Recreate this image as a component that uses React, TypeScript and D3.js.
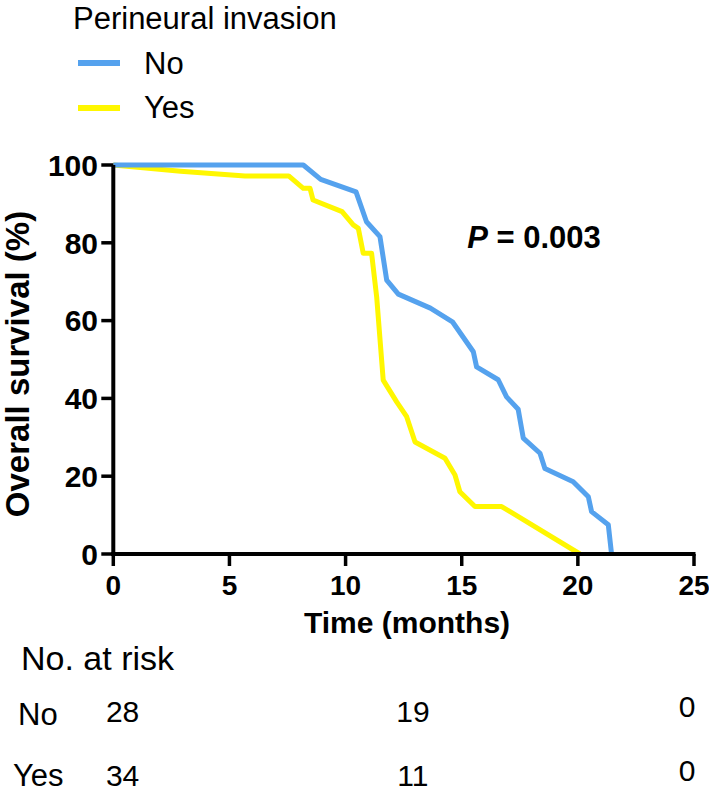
import React from "react";
import * as d3 from "d3";

const noTimes = [0, 8.18, 8.93, 10.45, 10.9, 11.48, 11.77, 12.27, 13.65, 14.6, 15.5, 15.64, 16.57, 16.93, 17.43, 17.65, 18.37, 18.58, 19.8, 20.45, 20.59, 21.31, 21.45];
const noSurv = [100, 100, 96.3, 93.1, 85.4, 81.6, 70.4, 66.8, 63.2, 59.7, 52, 48.1, 44.8, 40.4, 37.2, 29.8, 25.9, 22, 18.6, 14.7, 10.9, 7.5, 0];

const yesTimes = [0, 2.9, 5.67, 7.55, 8.18, 8.47, 8.6, 9.85, 10.33, 10.55, 10.76, 11.12, 11.34, 11.62, 12.2, 12.63, 12.99, 14.28, 14.71, 14.92, 15.57, 16.72, 20.09];
const yesSurv = [100, 98.4, 97.2, 97.2, 94, 94, 91, 88, 84.6, 83.7, 77.3, 77.3, 66, 44.7, 39.1, 35.3, 28.8, 24.6, 20.3, 16, 12.2, 12.2, 0];

const xTicks = [0, 5, 10, 15, 20, 25];
const yTicks = [0, 20, 40, 60, 80, 100];

const groups = ["No", "Yes"];
const groupColors = ["#55A2EE", "#FFF700"];
const riskTimes = [0.4, 12.9, 24.7];
const riskNo = [28, 19, 0];
const riskYes = [34, 11, 0];

const FONT = "Arial, 'Liberation Sans', Helvetica, sans-serif";

export default function App() {
  const x = d3.scaleLinear().domain([0, 25]).range([113.3, 694]);
  const y = d3.scaleLinear().domain([0, 100]).range([554, 165]);
  const line = d3
    .line<[number, number]>()
    .x((d) => x(d[0]))
    .y((d) => y(d[1]));
  const noPts: [number, number][] = noTimes.map((t, i) => [t, noSurv[i]]);
  const yesPts: [number, number][] = yesTimes.map((t, i) => [t, yesSurv[i]]);
  const riskRows = [riskNo, riskYes];
  const rowBase = [722, 786];
  const rowLabelBase = [725, 786];

  return (
    <svg
      width={709}
      height={794}
      style={{ position: "absolute", left: 0, top: 0, background: "#fff" }}
      fontFamily={FONT}
    >
      <rect x={0} y={0} width={709} height={794} fill="#fff" />
      {/* legend */}
      <text x={73} y={29} fontSize={31}>Perineural invasion</text>
      {groups.map((g, i) => (
        <g key={g}>
          <line x1={78} x2={120} y1={63 + i * 45} y2={63 + i * 45} stroke={groupColors[i]} strokeWidth={6} />
          <text x={144} y={74 + i * 44} fontSize={31}>{g}</text>
        </g>
      ))}

      {/* curves */}
      <path d={line(yesPts) || ""} fill="none" stroke={groupColors[1]} strokeWidth={5} strokeLinejoin="round" />
      <path d={line(noPts) || ""} fill="none" stroke={groupColors[0]} strokeWidth={5} strokeLinejoin="round" />

      {/* axes */}
      <line x1={x(0)} x2={x(0)} y1={y(0) + 2} y2={y(100)} stroke="#000" strokeWidth={4} />
      <line x1={x(0) - 2} x2={x(25) + 1.5} y1={y(0)} y2={y(0)} stroke="#000" strokeWidth={4} />
      {yTicks.map((t) => (
        <g key={"y" + t}>
          <line x1={x(0) - 12} x2={x(0)} y1={y(t)} y2={y(t)} stroke="#000" strokeWidth={3.5} />
          <text x={98} y={y(t)} dy="0.36em" textAnchor="end" fontSize={30} fontWeight="bold">{t}</text>
        </g>
      ))}
      {xTicks.map((t) => (
        <g key={"x" + t}>
          <line x1={x(t)} x2={x(t)} y1={y(0)} y2={y(0) + 12} stroke="#000" strokeWidth={3.5} />
          <text x={x(t)} y={595} textAnchor="middle" fontSize={28} fontWeight="bold">{t}</text>
        </g>
      ))}
      <text x={407} y={633} textAnchor="middle" fontSize={30} fontWeight="bold">Time (months)</text>
      <text
        transform={`translate(29,364) rotate(-90)`}
        textAnchor="middle"
        fontSize={33}
        fontWeight="bold"
      >
        Overall survival (%)
      </text>

      <text x={534} y={248} fontSize={31} fontWeight="bold" textAnchor="middle">
        <tspan fontStyle="italic">P</tspan> = 0.003
      </text>

      {/* number at risk */}
      <text x={21} y={670} fontSize={34}>No. at risk</text>
      {groups.map((g, i) => (
        <g key={"r" + g}>
          <text x={i === 0 ? 18 : 13} y={rowLabelBase[i]} fontSize={31}>{g}</text>
          {riskRows[i].map((v, j) => (
            <text key={j} x={x(riskTimes[j])} y={rowBase[i] - (j === 2 ? 5 : 0)} textAnchor="middle" fontSize={30}>
              {v}
            </text>
          ))}
        </g>
      ))}
    </svg>
  );
}
